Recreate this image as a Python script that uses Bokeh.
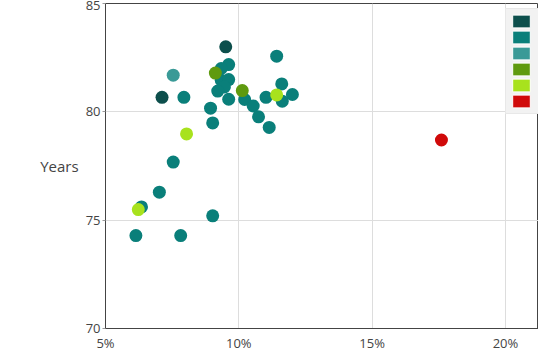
from bokeh.plotting import figure
from bokeh.models import Range1d, FixedTicker, PrintfTickFormatter, Legend, LegendItem
from bokeh.embed import file_html
from bokeh.resources import INLINE

# ---- data ----
x_ticks = [5, 10, 15, 20]
y_ticks = [70, 75, 80, 85]

group_colors = ["#0d4f4c", "#0a7f7a", "#3a9a97", "#5f9a0f", "#a8e21d", "#d00a0a"]

g0_x = [9.51, 7.12]
g0_y = [83.0, 80.67]

g1_x = [11.42, 9.62, 9.34, 9.34, 9.62, 9.46, 9.21, 11.61, 12.01, 11.02, 11.63, 7.94,
        9.62, 10.22, 10.54, 8.94, 10.74, 9.02, 11.14, 7.54, 7.02, 6.35, 9.02, 6.14, 7.82]
g1_y = [82.57, 82.18, 82.0, 81.46, 81.49, 81.15, 80.96, 81.29, 80.8, 80.67, 80.49, 80.67,
        80.58, 80.57, 80.27, 80.17, 79.77, 79.49, 79.28, 77.68, 76.29, 75.61, 75.2, 74.29, 74.29]

g2_x = [7.54]
g2_y = [81.69]

g3_x = [9.12, 10.13]
g3_y = [81.79, 80.98]

g4_x = [11.42, 8.04, 6.23]
g4_y = [80.78, 78.98, 75.49]

g5_x = [17.6]
g5_y = [78.7]

groups_x = [g0_x, g1_x, g2_x, g3_x, g4_x, g5_x]
groups_y = [g0_y, g1_y, g2_y, g3_y, g4_y, g5_y]

FONT = "Open Sans"
TXT = "#444444"

p = figure(width=538, height=354, output_backend="svg", toolbar_location=None,
           x_range=Range1d(5, 21.24), y_range=Range1d(70, 85),
           min_border_left=105, min_border_right=0, min_border_top=3, min_border_bottom=25)

p.outline_line_color = "#444444"
p.outline_line_width = 1

for gx, gy, c in zip(groups_x, groups_y, group_colors):
    p.scatter(x=gx, y=gy, size=13, fill_color=c, line_color=None)

# legend swatches (renderers carry no visible point)
nan = float("nan")
items = []
for c in group_colors:
    r = p.rect(x=[nan], y=[nan], width=1, height=1, fill_color=c, line_color="white", line_width=1)
    items.append(LegendItem(label=" ", renderers=[r]))

legend = Legend(items=items, location=(400, 214), padding=4, spacing=0,
                glyph_width=22, glyph_height=16, label_height=16, label_width=4,
                label_standoff=5, label_text_font_size="8px",
                background_fill_color="#f2f2f2", background_fill_alpha=1.0,
                border_line_color="#dddddd", border_line_width=1, margin=0)
p.add_layout(legend)

# x axis
xa = p.xaxis[0]
xa.ticker = FixedTicker(ticks=x_ticks)
xa.formatter = PrintfTickFormatter(format="%d%%")
xa.major_tick_out = 0
xa.major_tick_in = 0
xa.minor_tick_out = 0
xa.minor_tick_in = 0
xa.major_label_standoff = 5
xa.axis_line_color = "#444444"
xa.major_label_text_font = FONT
xa.major_label_text_font_size = "13px"
xa.major_label_text_color = TXT

# y axis
ya = p.yaxis[0]
ya.ticker = FixedTicker(ticks=y_ticks)
ya.major_tick_out = 3
ya.major_tick_in = 0
ya.minor_tick_out = 0
ya.minor_tick_in = 0
ya.major_tick_line_color = "#999999"
ya.major_label_standoff = 2
ya.axis_line_color = "#444444"
ya.major_label_text_font = FONT
ya.major_label_text_font_size = "13px"
ya.major_label_text_color = TXT
ya.axis_label = "Years"
ya.axis_label_orientation = "horizontal"
ya.axis_label_standoff = 4
ya.axis_label_text_font = FONT
ya.axis_label_text_font_size = "15px"
ya.axis_label_text_font_style = "normal"
ya.axis_label_text_color = TXT

p.xgrid.ticker = FixedTicker(ticks=[10, 15, 20])
p.ygrid.ticker = FixedTicker(ticks=[75, 80])
p.xgrid.grid_line_color = "#dddddd"
p.ygrid.grid_line_color = "#dddddd"

open("out.html", "w").write(file_html(p, INLINE))
